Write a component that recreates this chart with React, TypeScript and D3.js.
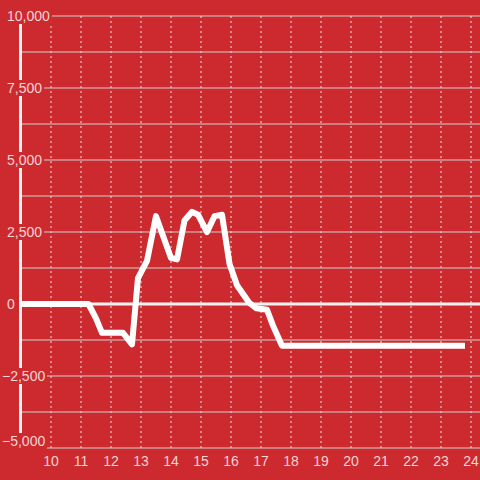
import React from "react";
import * as d3 from "d3";

const xValues = [9, 11.25, 11.5, 11.7, 12.4, 12.7, 12.9, 13.2, 13.5, 14.0, 14.2, 14.45, 14.7, 14.9, 15.2, 15.45, 15.7, 15.95, 16.2, 16.6, 16.85, 17.2, 17.4, 17.7, 23.8];
const yValues = [0, 0, -500, -1000, -1000, -1400, 900, 1500, 3050, 1600, 1550, 2900, 3200, 3100, 2500, 3050, 3100, 1400, 650, 50, -150, -200, -750, -1450, -1450];
const xTicks = [10, 11, 12, 13, 14, 15, 16, 17, 18, 19, 20, 21, 22, 23, 24];
const yTicks = [-5000, -2500, 0, 2500, 5000, 7500, 10000];
const yGrid = d3.range(-5000, 10001, 1250);

const BG = "#cd2a2f";
const LABEL = "#f5d4d5";

export default function App() {
  const W = 480, H = 480;
  const x = d3.scaleLinear().domain([9, 24.3]).range([21, 480]);
  const y = d3.scaleLinear().domain([-5000, 10000]).range([448, 16]);
  const fmt = d3.format(",");
  const data = xValues.map((v, i) => [v, yValues[i]] as [number, number]);
  const line = d3.line<[number, number]>().x(d => x(d[0])).y(d => y(d[1]));
  const textW = (s: string) => {
    let w = 0;
    for (const c of s) w += c === "," ? 3.9 : c === "-" ? 4.7 : 7.8;
    return w;
  };
  return (
    <svg width={W} height={H} style={{ position: "absolute", left: 0, top: 0, display: "block" }}
      fontFamily="'Liberation Sans', Arial, sans-serif">
      <rect x={0} y={0} width={W} height={H} fill={BG} />
      {yGrid.map(v => (
        <line key={"hg" + v} x1={21} x2={480} y1={y(v)} y2={y(v)} stroke="#cfcfcf" strokeWidth={1} />
      ))}
      {xTicks.map(v => (
        <line key={"vg" + v} x1={x(v)} x2={x(v)} y1={16} y2={448} stroke="#e6e6e6" strokeWidth={1} strokeDasharray="2,3" />
      ))}
      <line x1={20.5} x2={20.5} y1={24} y2={448} stroke="#f2f2f2" strokeWidth={3} />
      <line x1={21} x2={480} y1={y(0)} y2={y(0)} stroke="#f2f2f2" strokeWidth={3} />
      <path d={line(data) || ""} fill="none" stroke="#ffffff" strokeWidth={6} strokeLinejoin="round" strokeLinecap="butt" />
      {yTicks.map(v => {
        const s = fmt(v);
        const x0 = v < 0 ? 2 : 7;
        const w = textW(s);
        const yy = v === -5000 ? y(v) - 7 : y(v);
        return (
          <g key={"yl" + v}>
            <rect x={x0 - 2} y={yy - 8} width={w + 4} height={16} fill={BG} />
            <text x={x0} y={yy} dy="0.35em" fill={LABEL} fontSize={14}>{s}</text>
          </g>
        );
      })}
      {xTicks.map(v => (
        <text key={"xl" + v} x={x(v)} y={461} dy="0.35em" textAnchor="middle" fill={LABEL} fontSize={14}>{v}</text>
      ))}
    </svg>
  );
}
